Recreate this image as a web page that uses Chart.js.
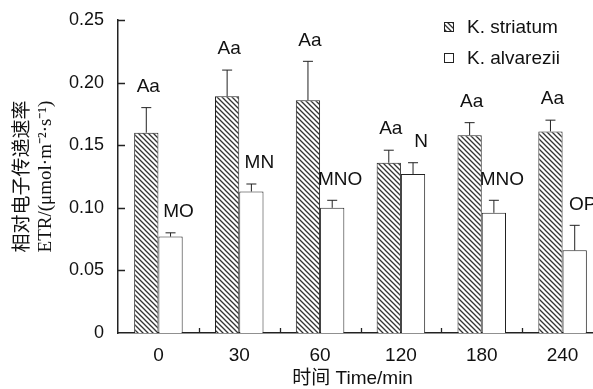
<!DOCTYPE html>
<html>
<head>
<meta charset="utf-8">
<script src="https://cdn.jsdelivr.net/npm/chart.js@4"></script>
<style>
  html, body { margin: 0; padding: 0; background: #fff; overflow: hidden; }
  canvas { display: block; }
</style>
</head>
<body>
<canvas id="myChart" width="603" height="389"></canvas>
<script>
'use strict';

const times = ['0', '30', '60', '120', '180', '240'];
const striatum = [0.160, 0.189, 0.186, 0.136, 0.158, 0.161];
const striatumErr = [0.020, 0.021, 0.031, 0.010, 0.010, 0.009];
const alvarezii = [0.077, 0.113, 0.100, 0.127, 0.096, 0.066];
const alvareziiErr = [0.003, 0.006, 0.006, 0.009, 0.010, 0.020];
const striatumSig = ['Aa', 'Aa', 'Aa', 'Aa', 'Aa', 'Aa'];
const alvareziiSig = ['MO', 'MN', 'MNO', 'N', 'MNO', 'OP'];
const yTicks = [0, 0.05, 0.10, 0.15, 0.20, 0.25];

const ink = '#222';
const sans = "Arial, 'Liberation Sans', 'Noto Sans CJK SC', sans-serif";

function hatch() {
    const c = document.createElement('canvas');
    c.width = 5;
    c.height = 5;
    const g = c.getContext('2d');
    g.fillStyle = '#fff';
    g.fillRect(0, 0, 5, 5);
    g.strokeStyle = '#333';
    g.lineWidth = 1.3;
    g.beginPath();
    g.moveTo(-1, -1); g.lineTo(6, 6);
    g.moveTo(-1, 4); g.lineTo(1, 6);
    g.moveTo(4, -1); g.lineTo(6, 1);
    g.stroke();
    return g.createPattern(c, 'repeat');
}

const ctx = document.getElementById('myChart').getContext('2d');

const extras = {
    id: 'extras',
    afterDatasetsDraw(chart) {
        const g = chart.ctx;
        const y = chart.scales.y;
        const errs = [striatumErr, alvareziiErr];
        const sigs = [striatumSig, alvareziiSig];
        const shift = [2, 8];
        g.save();
        g.strokeStyle = ink;
        g.lineWidth = 1;
        g.fillStyle = '#111';
        g.font = '19px ' + sans;
        g.textAlign = 'center';
        g.textBaseline = 'middle';
        chart.data.datasets.forEach((ds, i) => {
            chart.getDatasetMeta(i).data.forEach((bar, j) => {
                const top = y.getPixelForValue(ds.data[j]);
                const cap = y.getPixelForValue(ds.data[j] + errs[i][j]);
                g.beginPath();
                g.moveTo(bar.x, top);
                g.lineTo(bar.x, cap);
                g.moveTo(bar.x - 5, cap);
                g.lineTo(bar.x + 5, cap);
                g.stroke();
                g.fillText(sigs[i][j], bar.x + shift[i], cap - 21);
            });
        });
        g.restore();
    },
    afterDraw(chart) {
        const g = chart.ctx;
        const { x, y } = chart.scales;
        const area = chart.chartArea;
        g.save();
        g.strokeStyle = ink;
        g.lineWidth = 1.3;
        g.beginPath();
        yTicks.slice(1).forEach(v => {
            const py = Math.round(y.getPixelForValue(v)) + 0.5;
            g.moveTo(area.left, py);
            g.lineTo(area.left + 7, py);
        });
        for (let i = 1; i < times.length; i++) {
            const px = Math.round((x.getPixelForValue(i - 1) + x.getPixelForValue(i)) / 2) + 0.5;
            g.moveTo(px, area.bottom);
            g.lineTo(px, area.bottom - 5);
        }
        g.stroke();

        // legend
        g.font = '19px ' + sans;
        g.textAlign = 'left';
        g.textBaseline = 'middle';
        chart.data.datasets.forEach((ds, i) => {
            const cy = 27 + i * 31;
            g.fillStyle = ds.backgroundColor;
            g.fillRect(444, cy - 4.5, 9, 9);
            g.lineWidth = 1;
            g.strokeStyle = ink;
            g.strokeRect(444.5, cy - 4.5, 9, 9);
            g.fillStyle = '#111';
            g.fillText(ds.label, 467, cy + 1);
        });
        g.restore();
    }
};

new Chart(ctx, {
    type: 'bar',
    data: {
        labels: times,
        datasets: [
            {
                label: 'K. striatum',
                data: striatum,
                backgroundColor: hatch(),
                borderColor: ink,
                borderWidth: 1
            },
            {
                label: 'K. alvarezii',
                data: alvarezii,
                backgroundColor: '#fff',
                borderColor: ink,
                borderWidth: 1
            }
        ]
    },
    options: {
        responsive: false,
        animation: false,
        layout: { padding: { top: 20, right: 0, left: 0, bottom: 0 } },
        datasets: { bar: { categoryPercentage: 0.6, barPercentage: 1.0 } },
        plugins: {
            legend: { display: false },
            tooltip: { enabled: false }
        },
        scales: {
            x: {
                grid: { display: false, drawTicks: false },
                border: { display: true, color: ink, width: 1.5 },
                ticks: { color: '#111', font: { family: sans, size: 19 }, padding: 11 },
                title: {
                    display: true,
                    text: '时间 Time/min   ',
                    color: '#111',
                    font: { family: sans, size: 19, lineHeight: 1.1 },
                    padding: { top: 0, bottom: 0 }
                },
                afterFit(scale) { scale.height = 56; }
            },
            y: {
                min: 0,
                max: 0.25,
                grid: { display: false, drawTicks: false },
                border: { display: true, color: ink, width: 1.5 },
                ticks: {
                    stepSize: 0.05,
                    color: '#111',
                    font: { family: sans, size: 18 },
                    padding: 14,
                    callback: v => v === 0 ? '0' : v.toFixed(2)
                },
                title: {
                    display: true,
                    text: ['相对电子传递速率', 'ETR/(μmol·m⁻²·s⁻¹)'],
                    color: '#111',
                    font: { family: "'Liberation Serif', 'Noto Sans CJK SC', serif", size: 19, lineHeight: 1.2 },
                    padding: { top: 12, bottom: 0 }
                },
                afterFit(scale) {
                    scale.width = 118;
                    scale.paddingTop = 0;
                    scale.paddingBottom = 0;
                }
            }
        }
    },
    plugins: [extras]
});
</script>
</body>
</html>
